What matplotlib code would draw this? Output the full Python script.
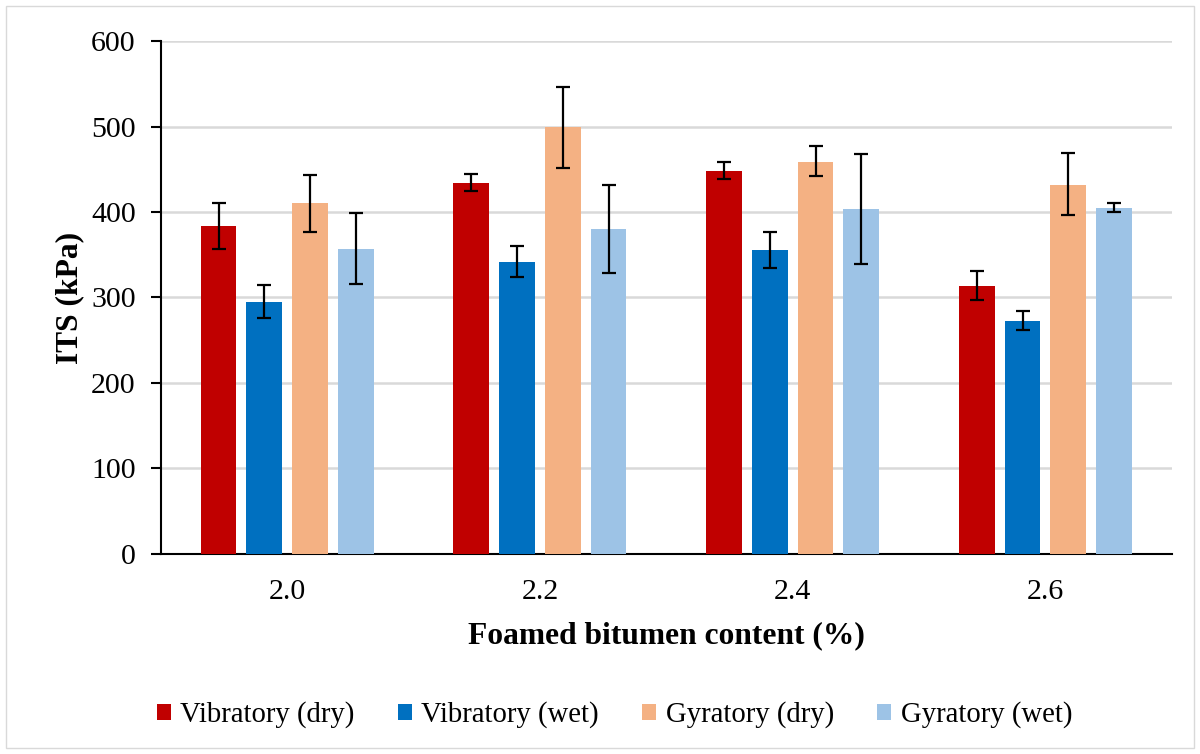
import numpy as np
from matplotlib import pyplot as plt
from matplotlib.patches import Rectangle

plt.rcParams['font.family'] = ['Liberation Serif', 'DejaVu Serif']

contents = ['2.0', '2.2', '2.4', '2.6']
series = ['Vibratory (dry)', 'Vibratory (wet)', 'Gyratory (dry)', 'Gyratory (wet)']
colors = ['#C00000', '#0070C0', '#F4B183', '#9DC3E6']

# mean ITS (kPa) per series, one value per bitumen content
vib_dry = [384, 434, 448, 313]
vib_wet = [295, 341, 355, 273]
gyr_dry = [410, 499, 459, 432]
gyr_wet = [357, 380, 403, 405]

# error bar ends (low, high)
vib_dry_lo = [357, 425, 439, 297]
vib_dry_hi = [411, 444, 459, 331]
vib_wet_lo = [276, 324, 334, 262]
vib_wet_hi = [315, 360, 377, 284]
gyr_dry_lo = [377, 452, 442, 396]
gyr_dry_hi = [443, 546, 477, 469]
gyr_wet_lo = [316, 329, 339, 400]
gyr_wet_hi = [399, 431, 468, 410]

means = [vib_dry, vib_wet, gyr_dry, gyr_wet]
lows = [vib_dry_lo, vib_wet_lo, gyr_dry_lo, gyr_wet_lo]
highs = [vib_dry_hi, vib_wet_hi, gyr_dry_hi, gyr_wet_hi]

fig = plt.figure(figsize=(12, 7.54), dpi=100)
ax = fig.add_axes([0.134, 0.2653, 0.8425, 0.6803])

x = np.arange(len(contents))
w = 0.142
pitch = 0.181
for i in range(4):
    m = np.array(means[i])
    err = np.array([m - np.array(lows[i]), np.array(highs[i]) - m])
    ax.bar(x + (i - 1.5) * pitch, m, width=w, color=colors[i], label=series[i],
           yerr=err, capsize=5, zorder=3,
           error_kw=dict(ecolor='black', elinewidth=1.6, capthick=1.6, zorder=4))

ax.set_xlim(-0.5, 3.5)
ax.set_ylim(0, 600)
ax.set_yticks(range(0, 601, 100))
ax.set_xticks(x)
ax.set_xticklabels(contents)
ax.tick_params(axis='x', length=0, labelsize=21.5, pad=18)
ax.tick_params(axis='y', length=7, width=1.5, labelsize=21.5, pad=11, direction='out')
ax.yaxis.grid(True, color='#d9d9d9', linewidth=1.8, zorder=0)
ax.set_axisbelow(True)
for s in ['top', 'right']:
    ax.spines[s].set_visible(False)
ax.spines['left'].set_linewidth(1.5)
ax.spines['bottom'].set_linewidth(1.5)

ax.set_ylabel('ITS (kPa)', fontsize=22.7, fontweight='bold', labelpad=5)
ax.set_xlabel('Foamed bitumen content (%)', fontsize=22.7, fontweight='bold', labelpad=12)

fig.legend(loc='center', bbox_to_anchor=(0.512, 0.052), ncol=4, frameon=False,
           fontsize=20.7, handlelength=0.5, handleheight=0.5, handletextpad=0.32,
           columnspacing=1.5)

fig.patches.append(Rectangle((0.005, 0.008), 0.99, 0.984, transform=fig.transFigure,
                             fill=False, edgecolor='#d9d9d9', linewidth=1))

fig.savefig('out.png', dpi=100)
